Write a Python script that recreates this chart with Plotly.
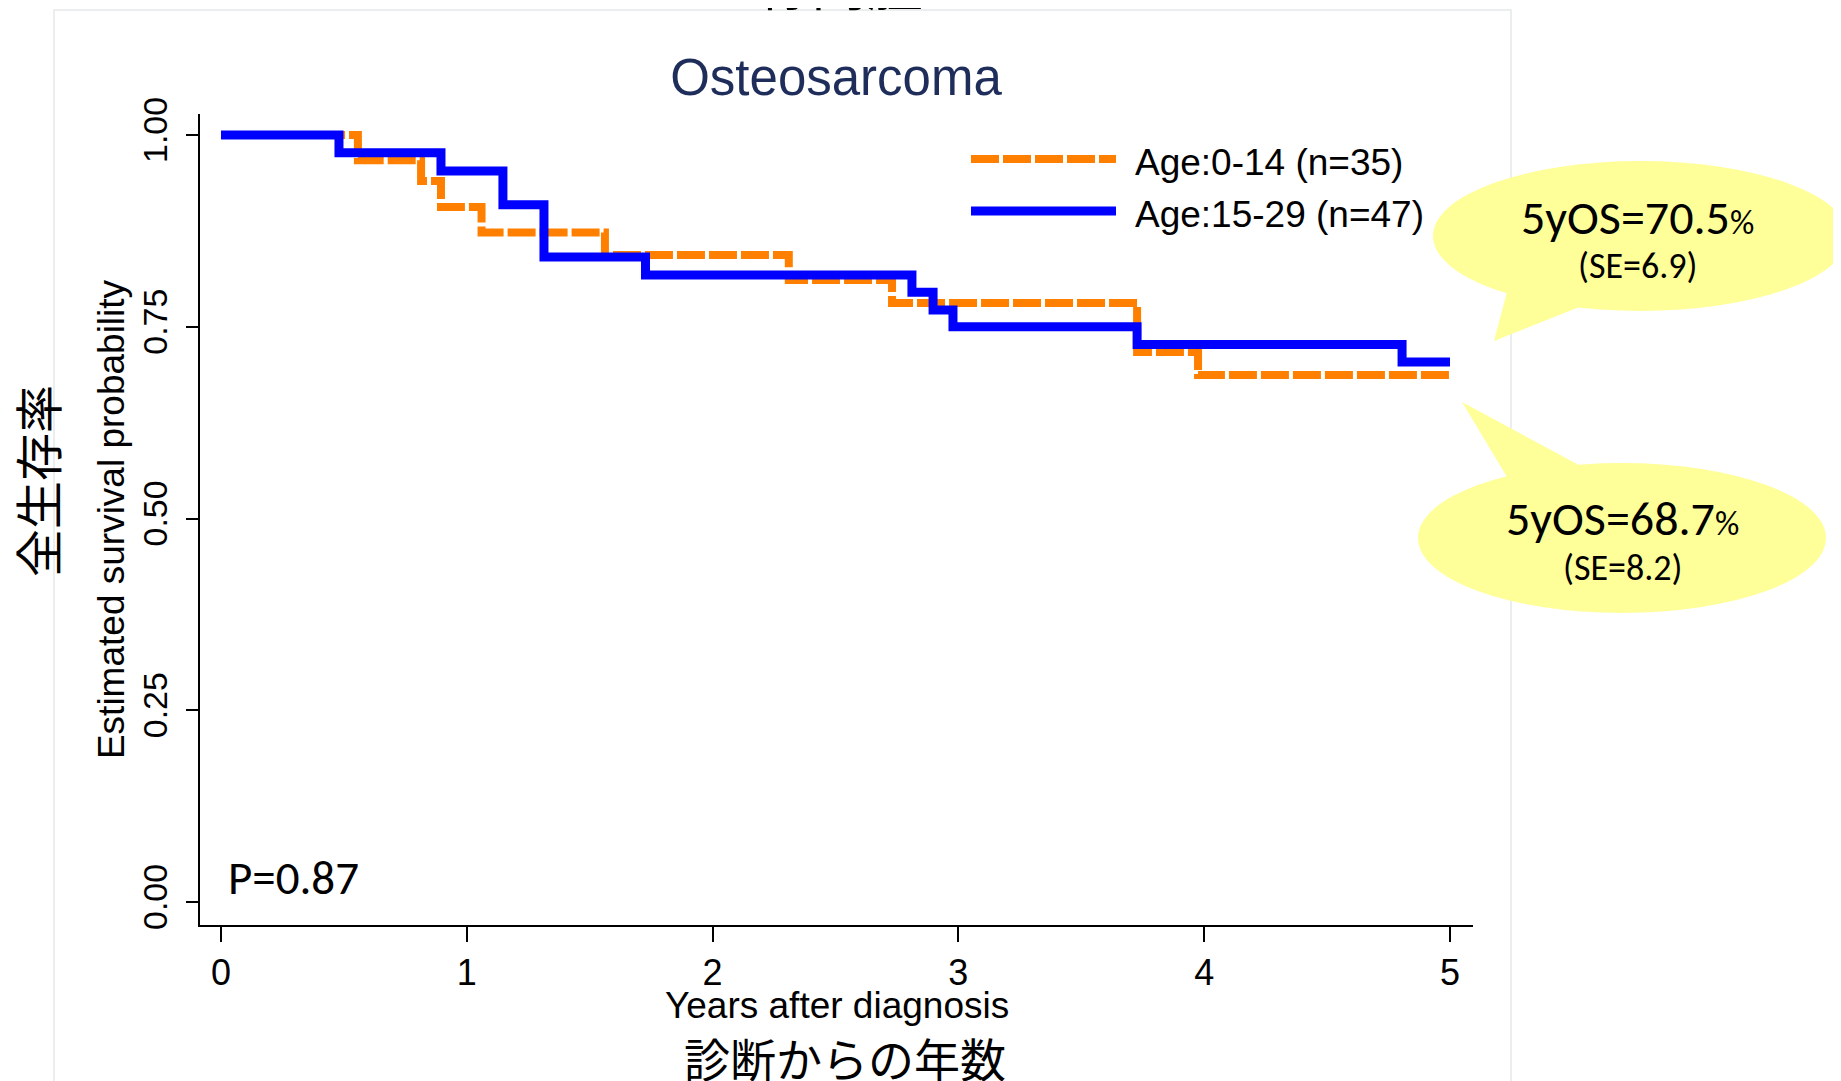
import plotly.graph_objects as go

# ---------------- data ----------------
series_names = ["Age:0-14 (n=35)", "Age:15-29 (n=47)"]

years_child = [0, 0.557, 0.814, 0.895, 1.06, 1.562, 2.31, 2.73, 3.727, 3.975, 5.0]
surv_child = [1.0, 0.967, 0.940, 0.906, 0.873, 0.8435, 0.811, 0.781, 0.717, 0.687, 0.687]

years_aya = [0, 0.48, 0.895, 1.147, 1.314, 1.727, 2.811, 2.897, 2.978, 3.727, 4.805, 5.0]
surv_aya = [1.0, 0.977, 0.953, 0.909, 0.841, 0.8175, 0.795, 0.772, 0.750, 0.727, 0.704, 0.704]

x_ticks = [0, 1, 2, 3, 4, 5]
y_ticks = [0, 0.25, 0.5, 0.75, 1.0]
y_tick_text = ["0.00", "0.25", "0.50", "0.75", "1.00"]

os_labels = ["5yOS=70.5", "5yOS=68.7"]
se_labels = ["(SE=6.9)", "(SE=8.2)"]
p_label = "P=0.87"

# ---------------- layout geometry (page pixels) ----------------
W, H = 1841, 1081
OFF = 8  # page body margin
ML, MR, MT, MB = 200, 368, 114, 156  # in page pixels
FW, FH = W - OFF, H - OFF
PW, PH = W - ML - MR, H - MT - MB


def px(x):
    return (x - ML) / PW


def py(y):
    return 1 - (y - MT) / PH


ORANGE = "#FF8000"
BLUE = "#0000FF"
LAT = "Liberation Sans, Arial, sans-serif"
CAL = "Carlito, Calibri, Lato, sans-serif"
CJK = "Noto Sans CJK JP, sans-serif"

fig = go.Figure()
fig.add_trace(go.Scatter(x=years_child, y=surv_child, mode="lines", name=series_names[0],
                         line=dict(shape="hv", color=ORANGE, width=8, dash="28px,4px")))
fig.add_trace(go.Scatter(x=years_aya, y=surv_aya, mode="lines", name=series_names[1],
                         line=dict(shape="hv", color=BLUE, width=9)))

shapes = []
# faint panel border
shapes.append(dict(type="rect", xref="paper", yref="paper", x0=px(54), x1=px(1511), y0=py(1110), y1=py(10),
                   line=dict(color="#E4E9E9", width=1.5), fillcolor="rgba(0,0,0,0)", layer="below"))
# legend samples
shapes.append(dict(type="line", xref="paper", yref="paper", x0=px(971), x1=px(1116), y0=py(159), y1=py(159),
                   line=dict(color=ORANGE, width=8, dash="28px,4px")))
shapes.append(dict(type="line", xref="paper", yref="paper", x0=px(971), x1=px(1116), y0=py(211), y1=py(211),
                   line=dict(color=BLUE, width=9)))
# callouts
YEL = "#FFFF99"
shapes.append(dict(type="circle", xref="paper", yref="paper", x0=px(1433), x1=px(1848), y0=py(311), y1=py(161),
                   fillcolor=YEL, line=dict(width=0)))
shapes.append(dict(type="path", xref="paper", yref="paper",
                   path=f"M {px(1508)},{py(288)} L {px(1494)},{py(341)} L {px(1592)},{py(302)} Z",
                   fillcolor=YEL, line=dict(width=0)))
shapes.append(dict(type="circle", xref="paper", yref="paper", x0=px(1418), x1=px(1826), y0=py(613), y1=py(463),
                   fillcolor=YEL, line=dict(width=0)))
shapes.append(dict(type="path", xref="paper", yref="paper",
                   path=f"M {px(1462)},{py(402)} L {px(1510)},{py(482)} L {px(1588)},{py(470)} Z",
                   fillcolor=YEL, line=dict(width=0)))

ann = []
ann.append(dict(text=series_names[0], xref="paper", yref="paper", x=px(1133), y=py(162), xanchor="left",
                yanchor="middle", showarrow=False, font=dict(family=LAT, size=37, color="black")))
ann.append(dict(text=series_names[1], xref="paper", yref="paper", x=px(1133), y=py(214), xanchor="left",
                yanchor="middle", showarrow=False, font=dict(family=LAT, size=37, color="black")))
ann.append(dict(text=os_labels[0] + "<span style='font-size:34px'>%</span>", xref="paper", yref="paper",
                x=px(1637), y=py(217), xanchor="center", yanchor="middle", showarrow=False,
                font=dict(family=CAL, size=48, color="black")))
ann.append(dict(text=se_labels[0], xref="paper", yref="paper", x=px(1637), y=py(266), xanchor="center",
                yanchor="middle", showarrow=False, font=dict(family=CAL, size=36, color="black")))
ann.append(dict(text=os_labels[1] + "<span style='font-size:34px'>%</span>", xref="paper", yref="paper",
                x=px(1622), y=py(518), xanchor="center", yanchor="middle", showarrow=False,
                font=dict(family=CAL, size=48, color="black")))
ann.append(dict(text=se_labels[1], xref="paper", yref="paper", x=px(1622), y=py(568), xanchor="center",
                yanchor="middle", showarrow=False, font=dict(family=CAL, size=36, color="black")))
ann.append(dict(text=p_label, xref="paper", yref="paper", x=px(226), y=py(878), xanchor="left",
                yanchor="middle", showarrow=False, font=dict(family=CAL, size=47, color="black")))
ann.append(dict(text="Years after diagnosis", xref="paper", yref="paper", x=px(837), y=py(1005),
                xanchor="center", yanchor="middle", showarrow=False,
                font=dict(family=LAT, size=37, color="black")))
ann.append(dict(text="全生存率", xref="paper", yref="paper", x=px(36), y=py(481), xanchor="center",
                yanchor="middle", textangle=-90, showarrow=False, font=dict(family=CJK, size=48, color="black")))
ann.append(dict(text="診断からの年数", xref="paper", yref="paper", x=px(845), y=py(1057), xanchor="center",
                yanchor="middle", showarrow=False, font=dict(family=CJK, size=46, color="black")))
ann.append(dict(text="骨肉腫", xref="paper", yref="paper", x=px(839), y=py(-19), xanchor="center",
                yanchor="middle", showarrow=False, font=dict(family=CJK, size=56, color="black")))

fig.update_layout(
    width=FW, height=FH,
    margin=dict(l=ML - OFF, r=MR, t=MT - OFF, b=MB, autoexpand=False),
    paper_bgcolor="white", plot_bgcolor="white",
    showlegend=False,
    title=dict(text="Osteosarcoma", x=px(836), xref="paper", xanchor="center", y=1 - (77 - OFF) / FH,
               yref="container", yanchor="middle", font=dict(family=LAT, size=51, color="#1F2D5A")),
    xaxis=dict(range=[-0.0854, 5.0936], tickvals=x_ticks, ticks="outside", ticklen=15, tickwidth=1.5,
               tickcolor="black", showline=True, linewidth=2, linecolor="black", showgrid=False, zeroline=False,
               tickfont=dict(family=LAT, size=36, color="black")),
    yaxis=dict(range=[-0.030, 1.0274], tickvals=y_ticks, ticktext=y_tick_text, tickangle=-90, ticks="outside",
               ticklen=12, tickwidth=1.5, tickcolor="black", showline=True, linewidth=1.5, linecolor="black",
               showgrid=False, zeroline=False, tickfont=dict(family=LAT, size=34, color="black"),
               ticklabelstandoff=6,
               title=dict(text="Estimated survival probability", standoff=0,
                          font=dict(family=LAT, size=37, color="black"))),
    shapes=shapes,
    annotations=ann,
)

fig.write_html("out.html")
